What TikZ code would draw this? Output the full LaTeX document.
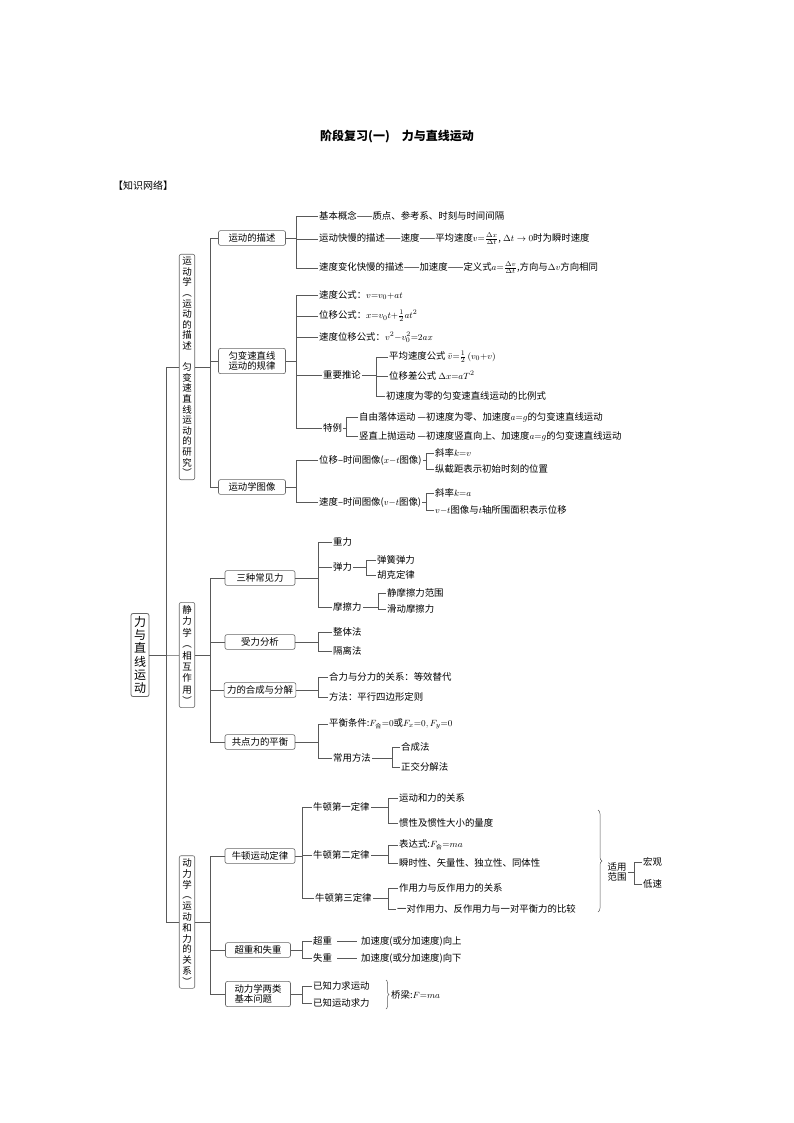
\documentclass[tikz,border=0pt]{standalone}
\usepackage{fontspec}
\newfontfamily\cjk{Noto Sans CJK SC}
\newcommand\hezi{\mbox{\cjk\fontsize{6}{6}\selectfont 合}}
\usetikzlibrary{decorations.pathreplacing}
\begin{document}
\begin{tikzpicture}[x=1pt,y=-1pt,
  every node/.style={font=\cjk\fontsize{9.4}{10.5}\selectfont,inner sep=1pt},
  bx/.style={draw=gray!80!black,rounded corners=2pt,line width=0.6pt,inner sep=3pt},
  vbx/.style={draw=gray!80!black,rounded corners=2pt,line width=0.6pt,inner xsep=3pt,inner ysep=3pt,align=center,font=\cjk\fontsize{9.5}{10.6}\selectfont},
  tx/.style={anchor=west},
  ln/.style={draw=gray!70!black,line width=0.5pt}]
\useasboundingbox (0,0) rectangle (794,1123);
\node[font=\cjk\bfseries\fontsize{12}{14}\selectfont] (title) at (397,137) {阶段复习(一)\quad 力与直线运动};
\node[tx,font=\cjk\fontsize{10}{12}\selectfont] (kw) at (112,186) {【知识网络】};
% root
\node[vbx,font=\cjk\fontsize{12}{13.2}\selectfont,line width=0.8pt] (root) at (140,655) {力\\与\\直\\线\\运\\动};
\node[vbx] (kin) at (187,367) {运\\动\\学\\︵\\运\\动\\的\\描\\述\\ \\匀\\变\\速\\直\\线\\运\\动\\的\\研\\究\\︶};
\node[vbx,font=\cjk\fontsize{9.5}{11.4}\selectfont] (sta) at (187,655) {静\\力\\学\\︵\\相\\互\\作\\用\\︶};
\node[vbx,font=\cjk\fontsize{9.5}{10.8}\selectfont] (dyn) at (187,922) {动\\力\\学\\︵\\运\\动\\和\\力\\的\\关\\系\\︶};
\coordinate (v0) at (166,0);
\newcommand\conn[3]{\draw[ln] (#2.west) -- (#2.west -| #3) |- (#1.east);}
\conn{root}{kin}{v0}\conn{root}{sta}{v0}\conn{root}{dyn}{v0}
% kinematics
\coordinate (v1) at (210,0);
\node[bx,minimum width=67pt] (k1) at (252,238) {运动的描述};
\node[bx,minimum width=67pt,align=center] (k2) at (252,361) {匀变速直线\\运动的规律};
\node[bx,minimum width=67pt] (k3) at (252,487) {运动学图像};
\conn{kin}{k1}{v1}\conn{kin}{k2}{v1}\conn{kin}{k3}{v1}
\coordinate (v2) at (296,0);
\node[tx] (a1) at (318,216) {基本概念——质点、参考系、时刻与时间间隔};
\node[tx] (a2) at (318,239) {运动快慢的描述——速度——平均速度$v{=}\frac{\Delta x}{\Delta t}$, $\Delta t\to0$时为瞬时速度};
\node[tx] (a3) at (318,268) {速度变化快慢的描述——加速度——定义式$a{=}\frac{\Delta v}{\Delta t}$,方向与$\Delta v$方向相同};
\conn{k1}{a1}{v2}\conn{k1}{a2}{v2}\conn{k1}{a3}{v2}
\node[tx] (b1) at (318,295) {速度公式：$v{=}v_0{+}at$};
\node[tx] (b2) at (318,316) {位移公式：$x{=}v_0t{+}\frac12at^2$};
\node[tx] (b3) at (318,337) {速度位移公式：$v^2{-}v_0^2{=}2ax$};
\node[tx] (b4) at (322,375) {重要推论};
\node[tx] (b5) at (322,428) {特例};
\foreach \c in {b1,b2,b3,b4,b5}{\conn{k2}{\c}{v2}}
\coordinate (v3) at (376,0);
\node[tx] (c1) at (388,357) {平均速度公式 $\bar v{=}\frac12\,(v_0{+}v)$};
\node[tx] (c2) at (388,376) {位移差公式 $\Delta x{=}aT^2$};
\node[tx] (c3) at (385,396) {初速度为零的匀变速直线运动的比例式};
\foreach \c in {c1,c2,c3}{\draw[ln] (\c.west) -- (\c.west -| v3) |- ([xshift=14pt]b4.east);}
\draw[ln] (b4.east) -- ++(14,0);
\coordinate (v4) at (346,0);
\node[tx] (d1) at (358,417) {自由落体运动 —初速度为零、加速度$a{=}g$的匀变速直线运动};
\node[tx] (d2) at (358,436) {竖直上抛运动 —初速度竖直向上、加速度$a{=}g$的匀变速直线运动};
\foreach \c in {d1,d2}{\conn{b5}{\c}{v4}}
\node[tx] (e1) at (318,460) {位移–时间图像($x{-}t$图像)};
\node[tx] (e2) at (318,502) {速度–时间图像($v{-}t$图像)};
\conn{k3}{e1}{v2}\conn{k3}{e2}{v2}
\coordinate (v5) at (426,0);
\node[tx] (f1) at (434,453) {斜率$k{=}v$};
\node[tx] (f2) at (434,469) {纵截距表示初始时刻的位置};
\node[tx] (f3) at (434,493) {斜率$k{=}a$};
\node[tx] (f4) at (434,510) {$v{-}t$图像与$t$轴所围面积表示位移};
\conn{e1}{f1}{v5}\conn{e1}{f2}{v5}\conn{e2}{f3}{v5}\conn{e2}{f4}{v5}
% statics
\node[bx,minimum width=70pt] (s1) at (260,578) {三种常见力};
\node[bx,minimum width=70pt] (s2) at (260,642) {受力分析};
\node[bx,minimum width=70pt] (s3) at (260,690) {力的合成与分解};
\node[bx,minimum width=70pt] (s4) at (260,742) {共点力的平衡};
\foreach \c in {s1,s2,s3,s4}{\conn{sta}{\c}{v1}}
\coordinate (w1) at (318,0);
\node[tx] (g1) at (332,542) {重力};
\node[tx] (g2) at (332,567) {弹力};
\node[tx] (g3) at (332,607) {摩擦力};
\foreach \c in {g1,g2,g3}{\conn{s1}{\c}{w1}}
\coordinate (w2) at (366,0);
\node[tx] (h1) at (376,560) {弹簧弹力};
\node[tx] (h2) at (376,575) {胡克定律};
\conn{g2}{h1}{w2}\conn{g2}{h2}{w2}
\coordinate (w3) at (378,0);
\node[tx] (h3) at (386,593) {静摩擦力范围};
\node[tx] (h4) at (386,609) {滑动摩擦力};
\conn{g3}{h3}{w3}\conn{g3}{h4}{w3}
\node[tx] (i1) at (332,632) {整体法};
\node[tx] (i2) at (332,651) {隔离法};
\conn{s2}{i1}{w1}\conn{s2}{i2}{w1}
\node[tx] (i3) at (328,677) {合力与分力的关系：等效替代};
\node[tx] (i4) at (328,697) {方法：平行四边形定则};
\conn{s3}{i3}{w1}\conn{s3}{i4}{w1}
\node[tx] (i5) at (328,724) {平衡条件:$F_{\hezi}{=}0$或$F_x{=}0,F_y{=}0$};
\node[tx] (i6) at (332,758) {常用方法};
\conn{s4}{i5}{w1}\conn{s4}{i6}{w1}
\coordinate (w4) at (392,0);
\node[tx] (j1) at (400,747) {合成法};
\node[tx] (j2) at (400,767) {正交分解法};
\conn{i6}{j1}{w4}\conn{i6}{j2}{w4}
% dynamics
\node[bx,minimum width=70pt] (n1) at (260,856) {牛顿运动定律};
\node[bx,minimum width=65pt] (n2) at (258,950) {超重和失重};
\node[bx,minimum width=65pt,align=left] (n3) at (258,994) {动力学两类\\基本问题};
\foreach \c in {n1,n2,n3}{\conn{dyn}{\c}{v1}}
\coordinate (u1) at (302,0);
\node[tx] (m1) at (312,807) {牛顿第一定律};
\node[tx] (m2) at (312,855) {牛顿第二定律};
\node[tx] (m3) at (314,898) {牛顿第三定律};
\foreach \c in {m1,m2,m3}{\conn{n1}{\c}{u1}}
\coordinate (u2) at (388,0);
\node[tx] (o1) at (398,798) {运动和力的关系};
\node[tx] (o2) at (398,823) {惯性及惯性大小的量度};
\node[tx] (o3) at (398,845) {表达式:$F_{\hezi}{=}ma$};
\node[tx] (o4) at (398,863) {瞬时性、矢量性、独立性、同体性};
\node[tx] (o5) at (398,888) {作用力与反作用力的关系};
\node[tx] (o6) at (396,909) {一对作用力、反作用力与一对平衡力的比较};
\conn{m1}{o1}{u2}\conn{m1}{o2}{u2}\conn{m2}{o3}{u2}\conn{m2}{o4}{u2}\conn{m3}{o5}{u2}\conn{m3}{o6}{u2}
\coordinate (bt) at (598,810); \coordinate (bb) at (598,912);
\draw[ln,decorate,decoration={brace,amplitude=4pt}] (bt) -- (bb);
\node[align=center] (sy) at (617,872) {适用\\范围};
\coordinate (u3) at (634,0);
\node[tx] (p1) at (642,862) {宏观};
\node[tx] (p2) at (642,884) {低速};
\conn{sy}{p1}{u3}\conn{sy}{p2}{u3}
\node[tx] (q1) at (312,941) {超重};
\node[tx] (q2) at (312,958) {失重};
\conn{n2}{q1}{u1}\conn{n2}{q2}{u1}
\node[tx] (r1) at (360,941) {加速度(或分加速度)向上};
\node[tx] (r2) at (360,958) {加速度(或分加速度)向下};
\draw[ln] (q1.east) ++(4,0) -- ([xshift=-3pt]r1.west);
\draw[ln] (q2.east) ++(4,0) -- ([xshift=-3pt]r2.west);
\node[tx] (t1) at (312,986) {已知力求运动};
\node[tx] (t2) at (312,1003) {已知运动求力};
\conn{n3}{t1}{u1}\conn{n3}{t2}{u1}
\coordinate (ct) at (386,980); \coordinate (cb) at (386,1009);
\draw[ln,decorate,decoration={brace,amplitude=3pt}] (ct) -- (cb);
\node[tx] (qiao) at (390,995) {桥梁:$F{=}ma$};
\end{tikzpicture}
\end{document}
